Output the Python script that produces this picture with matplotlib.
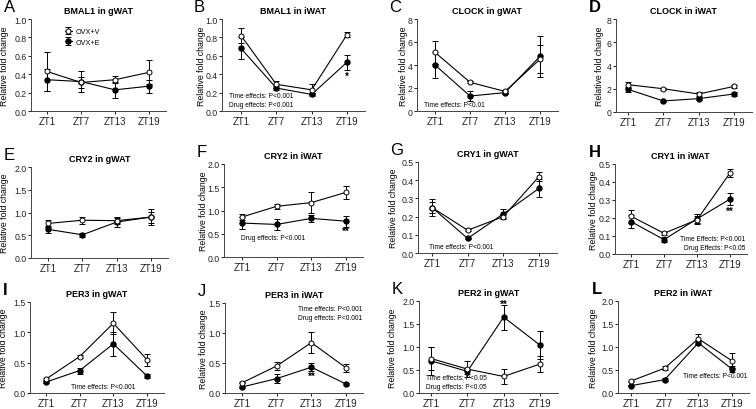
import matplotlib
matplotlib.use("Agg")
import matplotlib.pyplot as plt

plt.rcParams['font.family'] = ['Liberation Sans', 'DejaVu Sans']

# timepoints
zt_labels = ["ZT1", "ZT7", "ZT13", "ZT19"]

# values: mean and error for OVX+V (open) and OVX+E (filled)
bmal1_g_v = [0.43, 0.31, 0.34, 0.42]
bmal1_g_v_err = [0.21, 0.06, 0.04, 0.13]
bmal1_g_e = [0.34, 0.32, 0.23, 0.27]
bmal1_g_e_err = [0.12, 0.11, 0.09, 0.07]

bmal1_i_v = [0.82, 0.29, 0.23, 0.83]
bmal1_i_v_err = [0.08, 0.04, 0.06, 0.03]
bmal1_i_e = [0.68, 0.25, 0.18, 0.53]
bmal1_i_e_err = [0.12, 0.02, 0.02, 0.08]

clock_g_v = [5.1, 2.5, 1.7, 4.5]
clock_g_v_err = [1.0, 0.1, 0.1, 1.2]
clock_g_e = [4.0, 1.3, 1.6, 4.75]
clock_g_e_err = [1.1, 0.4, 0.1, 1.8]

clock_i_v = [2.35, 2.0, 1.55, 2.2]
clock_i_v_err = [0.25, 0.1, 0.2, 0.1]
clock_i_e = [1.95, 0.95, 1.15, 1.55]
clock_i_e_err = [0.2, 0.1, 0.1, 0.2]

cry2_g_v = [0.76, 0.83, 0.82, 0.90]
cry2_g_v_err = [0.08, 0.08, 0.08, 0.18]
cry2_g_e = [0.63, 0.51, 0.79, 0.90]
cry2_g_e_err = [0.08, 0.05, 0.10, 0.12]

cry2_i_v = [0.86, 1.09, 1.17, 1.39]
cry2_i_v_err = [0.06, 0.05, 0.23, 0.14]
cry2_i_e = [0.73, 0.70, 0.83, 0.77]
cry2_i_e_err = [0.13, 0.11, 0.08, 0.12]

cry1_g_v = [0.25, 0.125, 0.20, 0.42]
cry1_g_v_err = [0.03, 0.005, 0.015, 0.025]
cry1_g_e = [0.25, 0.08, 0.215, 0.355]
cry1_g_e_err = [0.045, 0.005, 0.025, 0.05]

cry1_i_v = [0.21, 0.115, 0.19, 0.45]
cry1_i_v_err = [0.035, 0.01, 0.02, 0.02]
cry1_i_e = [0.18, 0.08, 0.195, 0.305]
cry1_i_e_err = [0.035, 0.012, 0.03, 0.035]

per3_g_v = [0.23, 0.60, 1.15, 0.55]
per3_g_v_err = [0.02, 0.03, 0.18, 0.10]
per3_g_e = [0.18, 0.37, 0.81, 0.28]
per3_g_e_err = [0.02, 0.05, 0.20, 0.03]

per3_i_v = [0.17, 0.45, 0.84, 0.42]
per3_i_v_err = [0.01, 0.07, 0.17, 0.07]
per3_i_e = [0.10, 0.24, 0.43, 0.15]
per3_i_e_err = [0.01, 0.07, 0.07, 0.01]

per2_g_v = [0.75, 0.52, 0.36, 0.63]
per2_g_v_err = [0.25, 0.18, 0.17, 0.18]
per2_g_e = [0.70, 0.47, 1.65, 1.04]
per2_g_e_err = [0.30, 0.05, 0.27, 0.30]

per2_i_v = [0.26, 0.54, 1.18, 0.70]
per2_i_v_err = [0.01, 0.04, 0.11, 0.16]
per2_i_e = [0.16, 0.29, 1.09, 0.52]
per2_i_e_err = [0.01, 0.03, 0.05, 0.06]

W, H = 756, 410
fig = plt.figure(figsize=(W / 100, H / 100), dpi=100)

# letter, title, v, v_err, e, e_err, yticks, ticklabels,
# pixel layout (spine x, ZT1 x, ZT19 x, top y, bottom y, ylabel centre x)
panels = [
    ("A", "BMAL1 in gWAT", bmal1_g_v, bmal1_g_v_err, bmal1_g_e, bmal1_g_e_err,
     [0, 0.2, 0.4, 0.6, 0.8, 1.0], "%.1f", (31, 47, 149, 20, 112, 5)),
    ("B", "BMAL1 in iWAT", bmal1_i_v, bmal1_i_v_err, bmal1_i_e, bmal1_i_e_err,
     [0, 0.2, 0.4, 0.6, 0.8, 1.0], "%.1f", (222, 241, 347, 20, 112, 201)),
    ("C", "CLOCK in gWAT", clock_g_v, clock_g_v_err, clock_g_e, clock_g_e_err,
     [0, 2, 4, 6, 8], "%d", (417, 435, 540, 20, 112, 403)),
    ("D", "CLOCK in iWAT", clock_i_v, clock_i_v_err, clock_i_e, clock_i_e_err,
     [0, 2, 4, 6, 8], "%d", (616, 628, 734, 20, 113, 600)),
    ("E", "CRY2 in gWAT", cry2_g_v, cry2_g_v_err, cry2_g_e, cry2_g_e_err,
     [0, 0.5, 1.0, 1.5, 2.0], "%.1f", (31, 48, 151, 168, 259, 5)),
    ("F", "CRY2 in iWAT", cry2_i_v, cry2_i_v_err, cry2_i_e, cry2_i_e_err,
     [0, 0.5, 1.0, 1.5, 2.0], "%.1f", (224, 242, 346, 165, 258, 203)),
    ("G", "CRY1 in gWAT", cry1_g_v, cry1_g_v_err, cry1_g_e, cry1_g_e_err,
     [0, 0.1, 0.2, 0.3, 0.4, 0.5], "%.1f", (418, 432, 539, 163, 254, 393)),
    ("H", "CRY1 in iWAT", cry1_i_v, cry1_i_v_err, cry1_i_e, cry1_i_e_err,
     [0, 0.1, 0.2, 0.3, 0.4, 0.5], "%.1f", (615, 631, 730, 165, 255, 594)),
    ("I", "PER3 in gWAT", per3_g_v, per3_g_v_err, per3_g_e, per3_g_e_err,
     [0, 0.5, 1.0, 1.5], "%.1f", (30, 46, 147, 303, 394, 4)),
    ("J", "PER3 in iWAT", per3_i_v, per3_i_v_err, per3_i_e, per3_i_e_err,
     [0, 0.5, 1.0, 1.5], "%.1f", (225, 242, 346, 304, 394, 203)),
    ("K", "PER2 in gWAT", per2_g_v, per2_g_v_err, per2_g_e, per2_g_e_err,
     [0, 0.5, 1.0, 1.5, 2.0], "%.1f", (419, 431, 540, 302, 394, 393)),
    ("L", "PER2 in iWAT", per2_i_v, per2_i_v_err, per2_i_e, per2_i_e_err,
     [0, 0.5, 1.0, 1.5, 2.0], "%.1f", (618, 631, 732, 302, 394, 594)),
]

# text annotations inside panels: (x, y) in axes fraction, text, ha
notes = {
    "B": [(0.05, 0.13, "Time effects: P<0.001", "left"), (0.05, 0.03, "Drug effects: P<0.001", "left")],
    "C": [(0.05, 0.03, "Time effects: P<0.01", "left")],
    "F": [(0.12, 0.17, "Drug effects: P<0.001", "left")],
    "G": [(0.08, 0.03, "Time effects: P<0.001", "left")],
    "H": [(0.99, 0.13, "Time Effects: P<0.001", "right"), (0.99, 0.03, "Drug Effects: P<0.05", "right")],
    "I": [(0.55, 0.03, "Time effects: P<0.001", "center")],
    "J": [(0.99, 0.90, "Time effects: P<0.001", "right"), (0.99, 0.80, "Drug effects: P<0.001", "right")],
    "K": [(0.05, 0.13, "Time effects: P<0.05", "left"), (0.05, 0.03, "Drug effects: P<0.05", "left")],
    "L": [(0.99, 0.15, "Time effects: P<0.001", "right")],
}

# significance stars: (timepoint index, y data, label)
stars = {
    "B": [(3, 0.38, "*")],
    "F": [(3, 0.56, "**")],
    "H": [(3, 0.24, "**")],
    "J": [(2, 0.28, "**")],
    "K": [(2, 1.93, "**")],
}

x = list(range(len(zt_labels)))

for letter, title, v, v_err, e, e_err, yticks, fmt, px in panels:
    spine_x, zt1_x, zt19_x, top_y, bot_y, lab_x = px
    step = (zt19_x - zt1_x) / 3.0
    x_left = -(zt1_x - spine_x) / step
    x_right = 3.5
    width_px = (x_right - x_left) * step
    ax = fig.add_axes([spine_x / W, 1 - bot_y / H, width_px / W, (bot_y - top_y) / H])

    ax.errorbar(x, e, yerr=e_err, color="black", lw=0.8, marker="o", ms=3.6,
                mfc="black", mec="black", capsize=2.2, elinewidth=0.7, capthick=0.7,
                label="OVX+E", zorder=3)
    ax.errorbar(x, v, yerr=v_err, color="black", lw=0.8, marker="o", ms=3.6,
                mfc="white", mec="black", mew=0.7, capsize=2.2, elinewidth=0.7,
                capthick=0.7, label="OVX+V", zorder=4)

    ax.set_xlim(x_left, x_right)
    ax.set_ylim(yticks[0], yticks[-1])
    ax.set_yticks(yticks)
    ax.set_yticklabels([fmt % t for t in yticks])
    ax.set_xticks(x)
    ax.set_xticklabels(zt_labels)
    ax.tick_params(length=2.2, width=0.7, pad=1.2, colors="#222222")
    ax.tick_params(axis="x", labelsize=7)
    ax.tick_params(axis="y", labelsize=6.3, pad=1.0)
    for s in ("top", "right"):
        ax.spines[s].set_visible(False)
    for s in ("left", "bottom"):
        ax.spines[s].set_linewidth(0.7)
        ax.spines[s].set_color("#444444")

    ax.set_ylabel("Relative fold change", fontsize=6.3, va="center")
    ax.yaxis.set_label_coords((lab_x - spine_x) / width_px, 0.5)
    ax.set_title(title, fontsize=6.5, fontweight="bold", pad=4)
    ax.text(-0.2, 1.22, letter, transform=ax.transAxes, fontsize=12,
            fontweight="bold" if letter in ("D", "H", "I", "L") else "normal",
            va="top", ha="left")

    for nx, ny, txt, ha in notes.get(letter, []):
        ax.text(nx, ny, txt, transform=ax.transAxes, fontsize=4.8, ha=ha, va="bottom")
    for si, sy, txt in stars.get(letter, []):
        ax.text(si, sy, txt, fontsize=7, ha="center", va="center", fontweight="bold")

    if letter == "A":
        h, l = ax.get_legend_handles_labels()
        ax.legend(h[::-1], l[::-1], loc="upper left", bbox_to_anchor=(0.2, 0.97),
                  fontsize=5.2, frameon=False, handlelength=1.0, handletextpad=0.5,
                  labelspacing=0.45)

fig.savefig("out.png", dpi=100)
